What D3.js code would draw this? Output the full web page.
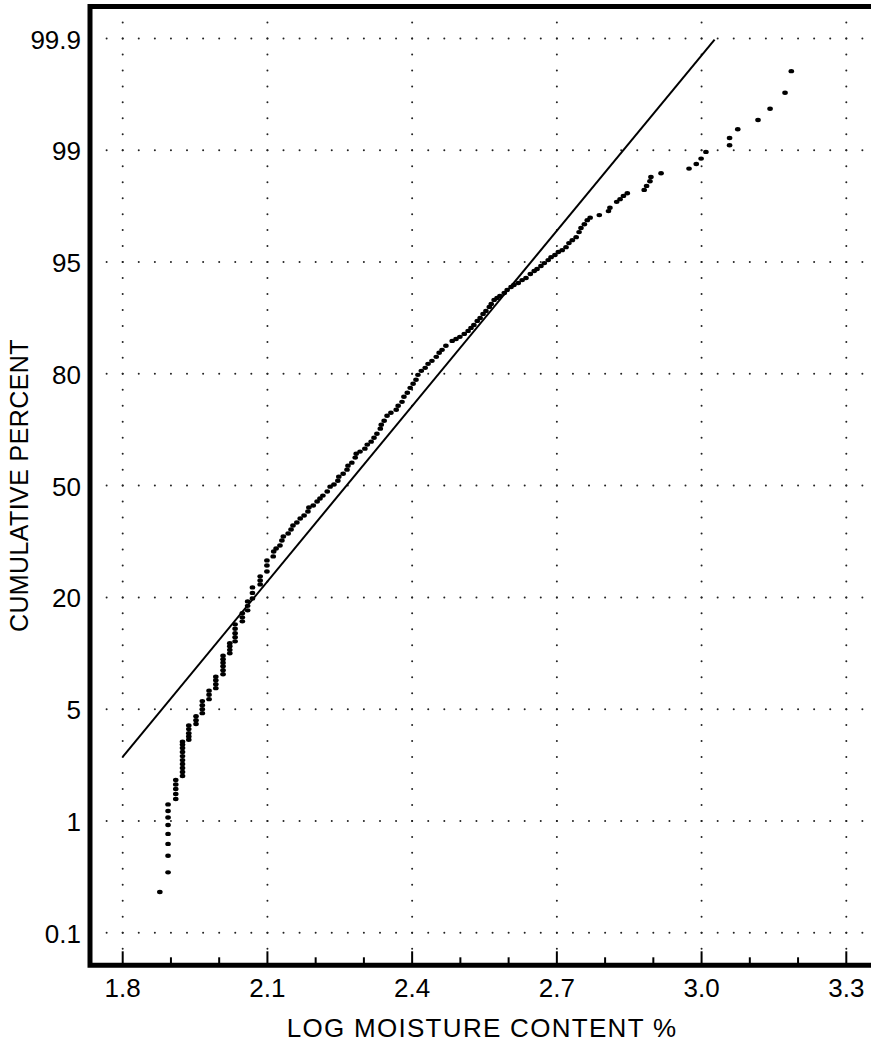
<!DOCTYPE html>
<html>
<head>
<meta charset="utf-8">
<script src="https://cdn.jsdelivr.net/npm/d3@7"></script>
<style>
  body { margin: 0; background: #fff; }
  svg { display: block; }
  text { font-family: "Liberation Sans", Arial, sans-serif; fill: #000; }
</style>
</head>
<body>
<div id="root"></div>
<script>
const width = 871;
const height = 1046;

// x axis: log moisture content
const xTicks = [1.8, 2.1, 2.4, 2.7, 3.0, 3.3];
// y axis: probability positions (standard normal score) and their printed labels
const yTickZ = [-3, -2.25, -1.5, -0.75, 0, 0.75, 1.5, 2.25, 3];
const yTickLabels = ['0.1', '1', '5', '20', '50', '80', '95', '99', '99.9'];

// fitted normal line, [log moisture, z]
const fitLine = [[1.8, -1.82], [3.027, 2.993]];

const observed = [
  [1.877, -2.727],
  [1.894, -2.595], [1.894, -2.484], [1.894, -2.404], [1.894, -2.337], [1.894, -2.277], [1.894, -2.227], [1.894, -2.183], [1.894, -2.139],
  [1.910, -2.103], [1.910, -2.069], [1.910, -2.036], [1.910, -2.006], [1.910, -1.975],
  [1.924, -1.949], [1.924, -1.922], [1.924, -1.895], [1.924, -1.868], [1.924, -1.842], [1.924, -1.815], [1.924, -1.788], [1.924, -1.761], [1.924, -1.738], [1.924, -1.718],
  [1.937, -1.705], [1.937, -1.684], [1.937, -1.661], [1.937, -1.634], [1.937, -1.610],
  [1.952, -1.600], [1.952, -1.574], [1.952, -1.547],
  [1.965, -1.527], [1.965, -1.500], [1.965, -1.473], [1.965, -1.446],
  [1.979, -1.433], [1.979, -1.403], [1.979, -1.376],
  [1.993, -1.359], [1.993, -1.333], [1.993, -1.306], [1.993, -1.282],
  [2.008, -1.266], [2.008, -1.239], [2.008, -1.212], [2.008, -1.189], [2.008, -1.165], [2.008, -1.142],
  [2.022, -1.125], [2.022, -1.102], [2.022, -1.078], [2.022, -1.058],
  [2.033, -1.045], [2.033, -1.018], [2.033, -0.991], [2.033, -0.961], [2.033, -0.931],
  [2.048, -0.911], [2.048, -0.884], [2.048, -0.857],
  [2.059, -0.837], [2.059, -0.807], [2.059, -0.777],
  [2.069, -0.757], [2.069, -0.720], [2.069, -0.683],
  [2.085, -0.663], [2.085, -0.636], [2.085, -0.609],
  [2.099, -0.576], [2.099, -0.536], [2.099, -0.502],
  [2.112, -0.475], [2.113, -0.442], [2.118, -0.422], [2.126, -0.402], [2.130, -0.368], [2.133, -0.342],
  [2.143, -0.321], [2.149, -0.295], [2.153, -0.268], [2.161, -0.248], [2.168, -0.221], [2.176, -0.201],
  [2.184, -0.174], [2.186, -0.147], [2.195, -0.134], [2.203, -0.107], [2.209, -0.087], [2.215, -0.067],
  [2.224, -0.040], [2.230, -0.007], [2.238, 0.007], [2.246, 0.033], [2.248, 0.060], [2.257, 0.080],
  [2.265, 0.107], [2.267, 0.134], [2.275, 0.154], [2.282, 0.188], [2.284, 0.214], [2.292, 0.228],
  [2.302, 0.248], [2.307, 0.275], [2.315, 0.295], [2.321, 0.321], [2.327, 0.348], [2.334, 0.382],
  [2.336, 0.408], [2.342, 0.435], [2.348, 0.469], [2.356, 0.489], [2.367, 0.509], [2.371, 0.536],
  [2.379, 0.562], [2.383, 0.596], [2.390, 0.623], [2.396, 0.656], [2.402, 0.683], [2.408, 0.710],
  [2.412, 0.743], [2.419, 0.770], [2.427, 0.790], [2.433, 0.817], [2.441, 0.837], [2.450, 0.864],
  [2.456, 0.891], [2.462, 0.911], [2.470, 0.938], [2.483, 0.971], [2.491, 0.984], [2.499, 0.998],
  [2.508, 1.018], [2.516, 1.038], [2.522, 1.058], [2.528, 1.078], [2.535, 1.105], [2.541, 1.125],
  [2.547, 1.152], [2.553, 1.172], [2.560, 1.199], [2.564, 1.219], [2.570, 1.246], [2.576, 1.259],
  [2.582, 1.272], [2.591, 1.292], [2.597, 1.313], [2.605, 1.333], [2.611, 1.346], [2.620, 1.359],
  [2.628, 1.379], [2.636, 1.393], [2.645, 1.420], [2.653, 1.440], [2.659, 1.453], [2.667, 1.473],
  [2.674, 1.493], [2.682, 1.513], [2.688, 1.533], [2.696, 1.547], [2.703, 1.567], [2.711, 1.580],
  [2.719, 1.600], [2.725, 1.627], [2.732, 1.647], [2.740, 1.667], [2.746, 1.701], [2.750, 1.728],
  [2.757, 1.754], [2.763, 1.781], [2.769, 1.798],
  [2.788, 1.815], [2.807, 1.842], [2.810, 1.864], [2.824, 1.904], [2.831, 1.922], [2.838, 1.944],
  [2.846, 1.962], [2.881, 1.984], [2.886, 2.011], [2.893, 2.042], [2.895, 2.071], [2.916, 2.096],
  [2.974, 2.127], [2.989, 2.158], [2.999, 2.194], [3.009, 2.239], [3.058, 2.284], [3.058, 2.332],
  [3.075, 2.391], [3.117, 2.453], [3.142, 2.529], [3.173, 2.636], [3.186, 2.781]
];

const frame = { left: 90, top: 6.5, bottom: 965.3, right: 885 };

const x = d3.scaleLinear().domain([1.8, 3.3]).range([122.7, 846.3]);
const y = d3.scaleLinear().domain([-3, 3]).range([932.7, 38.5]);

const svg = d3.select('#root')
  .append('svg')
  .attr('width', width)
  .attr('height', height);

svg.append('rect')
  .attr('width', width)
  .attr('height', height)
  .attr('fill', '#fff');

// dotted grid
const xDotStep = 0.1 / 3;
const zDotStep = 0.75 / 7;
const grid = svg.append('g').attr('fill', '#222');

yTickZ.forEach(z => {
  grid.selectAll(null)
    .data(d3.range(-1, 50).map(k => 1.8 + k * xDotStep).filter(v => x(v) > frame.left + 4 && x(v) < width))
    .join('circle')
    .attr('cx', d => x(d))
    .attr('cy', y(z))
    .attr('r', 1);
});

xTicks.forEach(t => {
  grid.selectAll(null)
    .data(d3.range(-29, 30).map(k => k * zDotStep))
    .join('circle')
    .attr('cx', x(t))
    .attr('cy', d => y(d))
    .attr('r', 1);
});

// tick marks on the bottom axis
const minorTicks = d3.range(18, 34).map(d => d / 10).filter(d => !xTicks.some(t => Math.abs(t - d) < 1e-6));
svg.append('g')
  .selectAll('line')
  .data(xTicks)
  .join('line')
  .attr('x1', d => x(d)).attr('x2', d => x(d))
  .attr('y1', frame.bottom).attr('y2', frame.bottom - 14)
  .attr('stroke', '#000')
  .attr('stroke-width', 2);
svg.append('g')
  .selectAll('line')
  .data(minorTicks)
  .join('line')
  .attr('x1', d => x(d)).attr('x2', d => x(d))
  .attr('y1', frame.bottom).attr('y2', frame.bottom - 8)
  .attr('stroke', '#000')
  .attr('stroke-width', 2);

// frame
svg.append('path')
  .attr('d', `M${frame.right},${frame.top}H${frame.left}V${frame.bottom}H${frame.right}`)
  .attr('fill', 'none')
  .attr('stroke', '#000')
  .attr('stroke-width', 5);

// fitted line
svg.append('line')
  .attr('x1', x(fitLine[0][0])).attr('y1', y(fitLine[0][1]))
  .attr('x2', x(fitLine[1][0])).attr('y2', y(fitLine[1][1]))
  .attr('stroke', '#000')
  .attr('stroke-width', 2);

// observations
svg.append('g')
  .selectAll('ellipse')
  .data(observed)
  .join('ellipse')
  .attr('cx', d => x(d[0]))
  .attr('cy', d => y(d[1]))
  .attr('rx', 2.8)
  .attr('ry', 2.2)
  .attr('fill', '#000');

// tick labels
svg.append('g')
  .selectAll('text')
  .data(xTicks)
  .join('text')
  .attr('x', d => x(d))
  .attr('y', 997)
  .attr('text-anchor', 'middle')
  .attr('font-size', 26)
  .text(d => d.toFixed(1));

svg.append('g')
  .selectAll('text')
  .data(yTickZ)
  .join('text')
  .attr('x', 81)
  .attr('y', d => y(d) + 10)
  .attr('text-anchor', 'end')
  .attr('font-size', 26)
  .text((d, i) => yTickLabels[i]);

// axis titles
svg.append('text')
  .attr('x', 482)
  .attr('y', 1037)
  .attr('text-anchor', 'middle')
  .attr('font-size', 26)
  .attr('letter-spacing', 1.3)
  .text('LOG MOISTURE CONTENT %');

svg.append('text')
  .attr('transform', `translate(28,${y(0)}) rotate(-90)`)
  .attr('text-anchor', 'middle')
  .attr('font-size', 25)
  .attr('letter-spacing', 0.4)
  .text('CUMULATIVE PERCENT');
</script>
</body>
</html>
